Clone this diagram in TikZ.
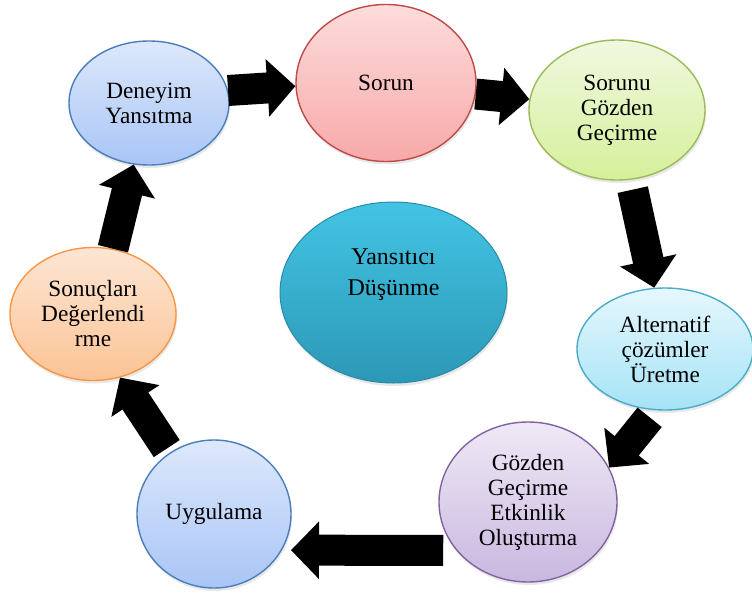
\documentclass[tikz,border=0pt]{standalone}
\usepackage{fontspec}
\setmainfont{Liberation Serif}
\usetikzlibrary{shapes.geometric,arrows.meta,shadows}
\definecolor{blueT}{HTML}{DDE8FB}\definecolor{blueB}{HTML}{A9C5F6}\definecolor{blueD}{HTML}{4A7EBB}
\definecolor{redT}{HTML}{FDDCDC}\definecolor{redB}{HTML}{F8A9A9}\definecolor{redD}{HTML}{BE4B48}
\definecolor{grnT}{HTML}{F0F8E0}\definecolor{grnB}{HTML}{D6F09A}\definecolor{grnD}{HTML}{9BBB59}
\definecolor{aquT}{HTML}{E6F7FD}\definecolor{aquB}{HTML}{A5E3F6}\definecolor{aquD}{HTML}{4BACC6}
\definecolor{purT}{HTML}{EFE9F6}\definecolor{purB}{HTML}{C9B7E0}\definecolor{purD}{HTML}{8064A2}
\definecolor{orgT}{HTML}{FDE6D4}\definecolor{orgB}{HTML}{FBC395}\definecolor{orgD}{HTML}{F79646}
\definecolor{tealT}{HTML}{43C4E4}\definecolor{tealB}{HTML}{2C98B6}\definecolor{tealD}{HTML}{2A8BA8}
\tikzset{
  bub/.style={ellipse, line width=1.4pt, inner sep=0pt, align=center,
    font=\fontsize{23.3}{25}\selectfont,
    drop shadow={opacity=0.18, shadow xshift=1pt, shadow yshift=-3pt}},
  blk/.style={line width=31pt, black, -{Triangle[width=56pt,length=28pt]}},
  ctext/.style={align=center, font=\fontsize{24}{31}\selectfont}
}
\begin{document}
\begin{tikzpicture}[x=1pt,y=-1pt]
\fill[white] (0,0) rectangle (752,597);
\useasboundingbox (0,0) rectangle (752,597);
% nodes
\node[bub, minimum width=160pt, minimum height=124pt, top color=blueT, bottom color=blueB, draw=blueD] (d) at (149,103) {Deneyim\\Yansıtma};
\node[bub, minimum width=180pt, minimum height=157pt, top color=redT, bottom color=redB, draw=redD] (s) at (386,83) {Sorun};
\node[bub, minimum width=176pt, minimum height=140pt, top color=grnT, bottom color=grnB, draw=grnD] (g) at (617,110) {Sorunu\\Gözden\\Geçirme};
\node[bub, minimum width=176pt, minimum height=122pt, top color=aquT, bottom color=aquB, draw=aquD] (a) at (665,349) {Alternatif\\çözümler\\Üretme};
\node[bub, minimum width=178pt, minimum height=160pt, top color=purT, bottom color=purB, draw=purD] (e) at (528,502) {Gözden\\Geçirme\\Etkinlik\\Oluşturma};
\node[bub, minimum width=154pt, minimum height=148pt, top color=blueT, bottom color=blueB, draw=blueD] (u) at (214,514) {Uygulama};
\node[bub, minimum width=166pt, minimum height=133pt, top color=orgT, bottom color=orgB, draw=orgD] (r) at (93,314) {Sonuçları\\Değerlendi\\rme};
\node[bub, minimum width=227pt, minimum height=181pt, top color=tealT, bottom color=tealB, draw=tealD, line width=1pt] (c) at (393.5,292.5) {};
\node[ctext] (ct) at ([yshift=18pt]c.center) {Yansıtıcı\\Düşünme};
% arrows
\draw[blk] (d.9) -- (s.182.6);
\draw[blk] (s.-7) -- (g.173.5);
\draw[blk, shorten <=10pt] (g.-79) -- (a.100.6);
\draw[blk, shorten <=9pt] (a.-99) -- (e.23);
\draw[blk, shorten <=13pt, shorten >=9pt] (e.214) -- (u.-28);
\draw[blk, shorten <=5pt] (u.126) -- (r.-67);
\draw[blk] (r.73.5) -- (d.-104);
\end{tikzpicture}
\end{document}
